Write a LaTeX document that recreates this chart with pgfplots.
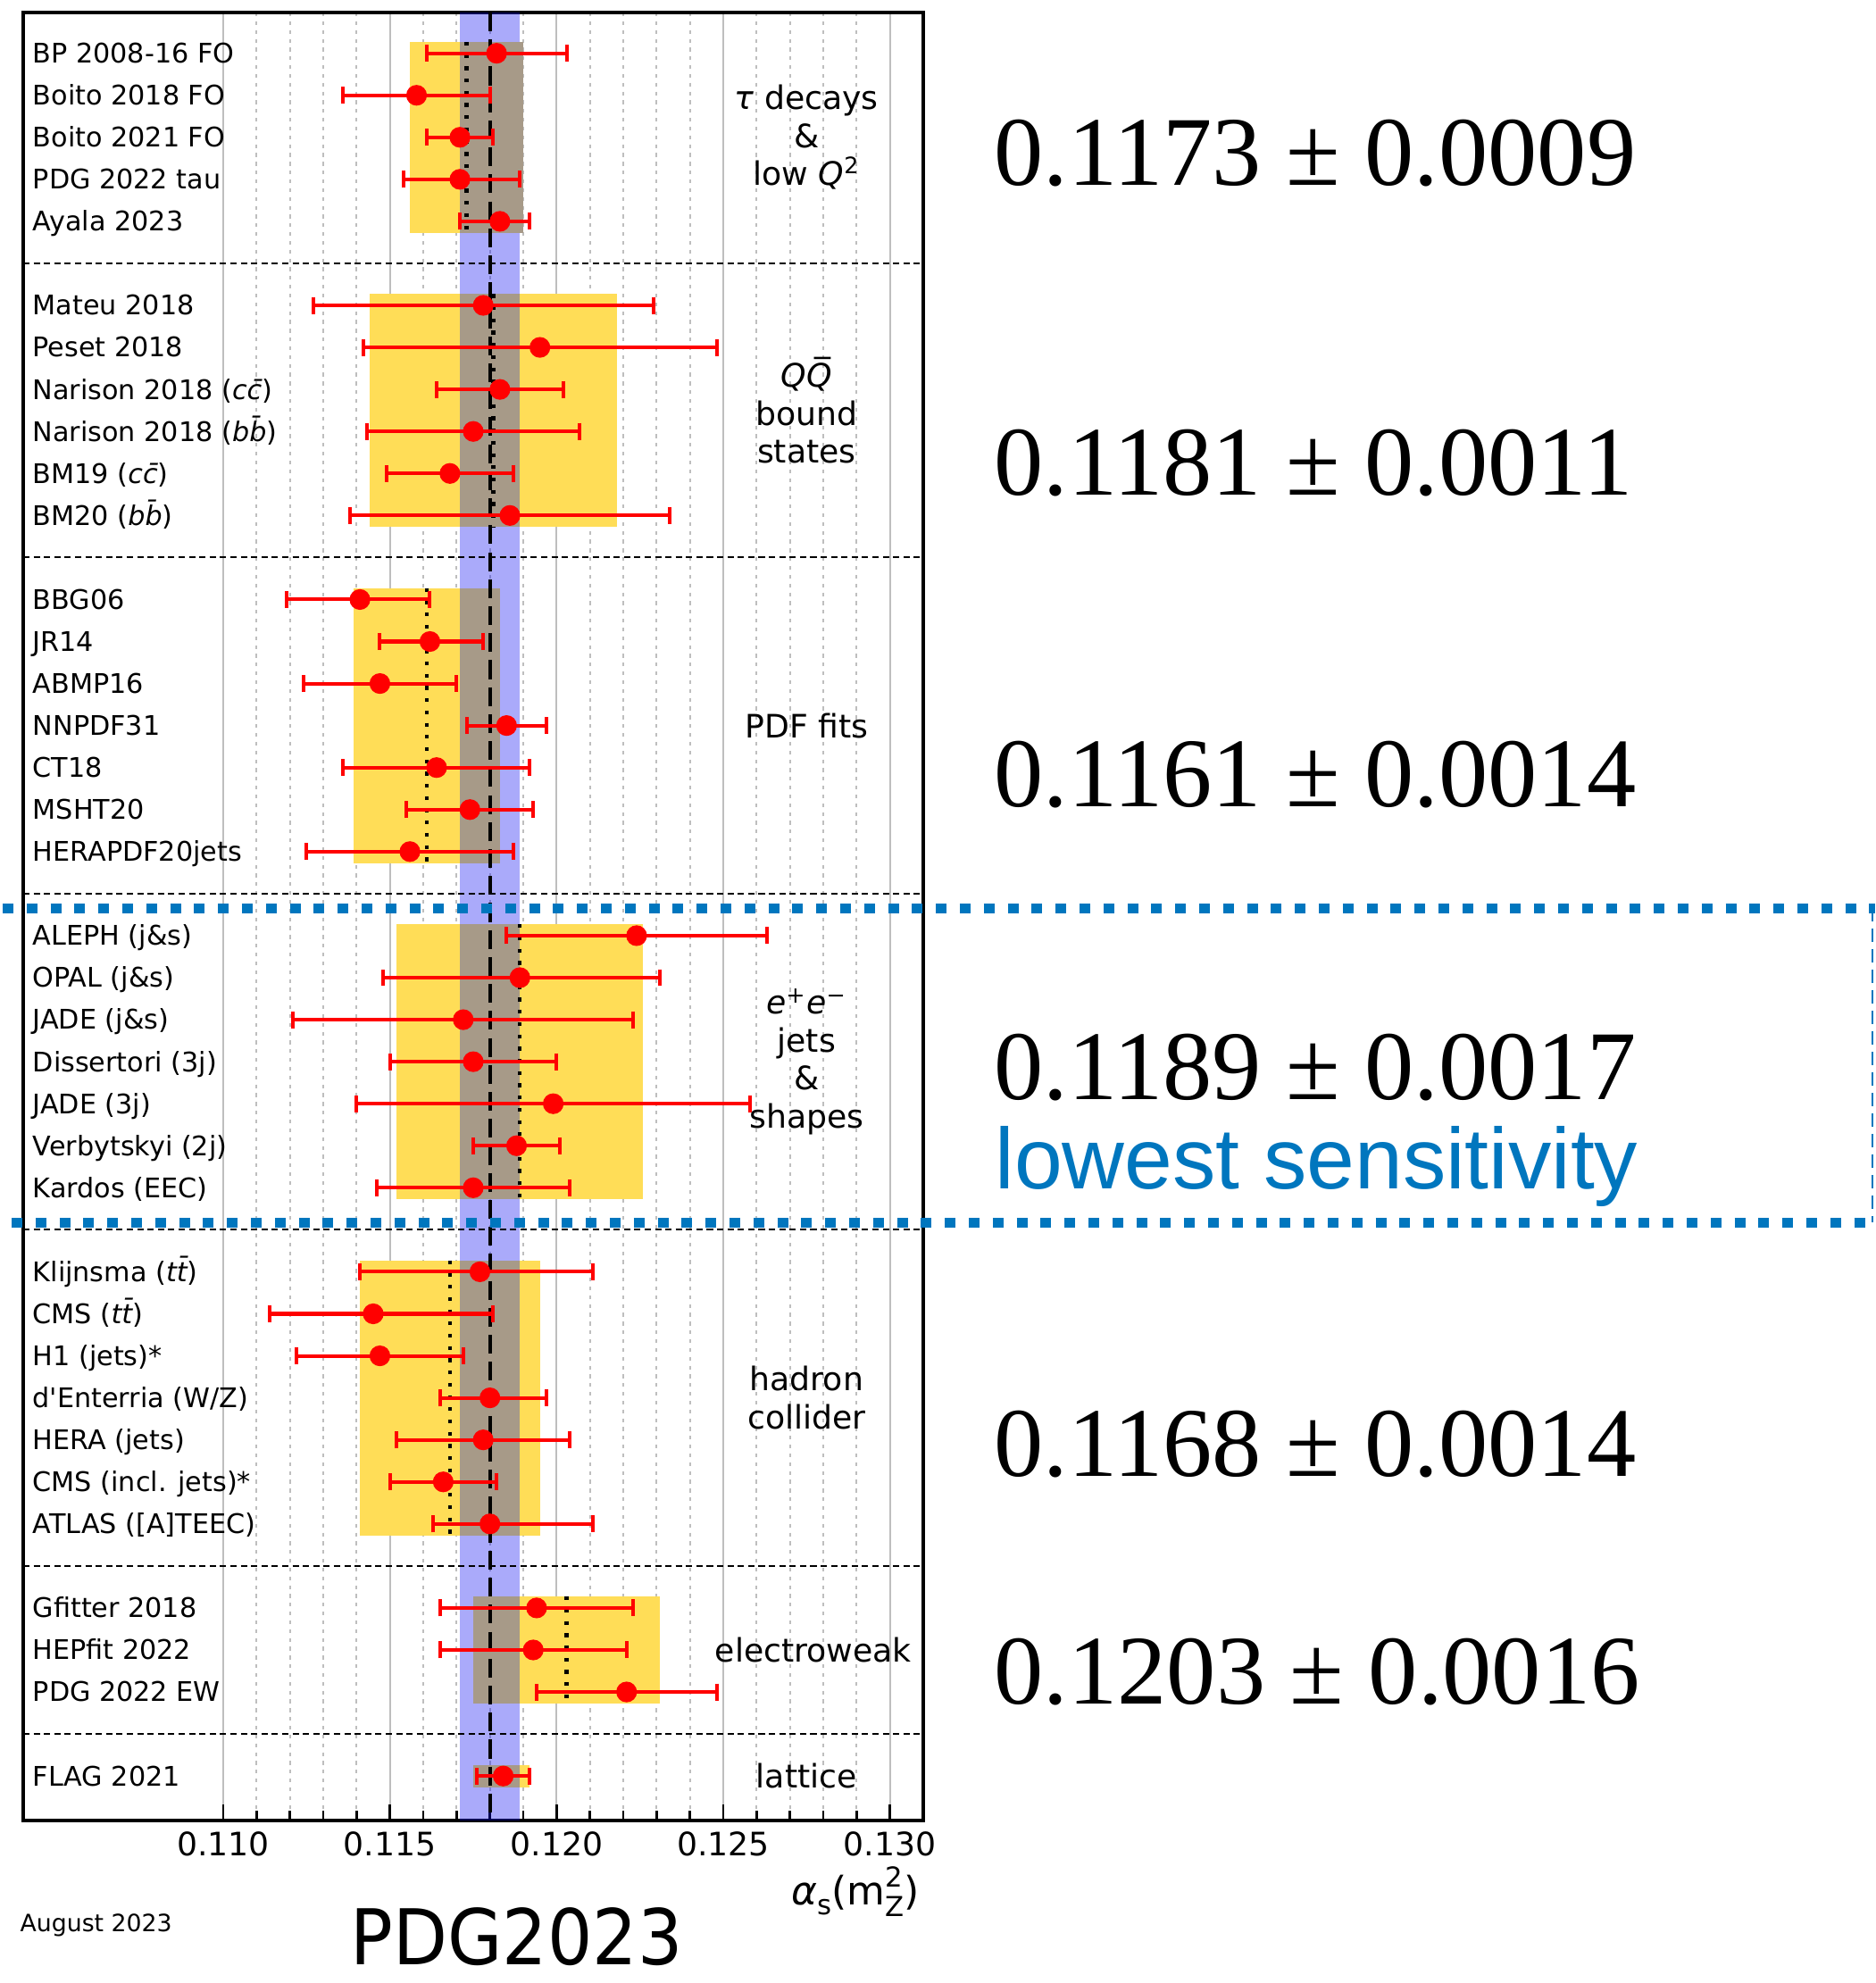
\documentclass[border=0pt]{standalone}
\usepackage{pgfplots}
\pgfplotsset{compat=1.18}
\usepackage{pgfplotstable}
\usepackage{fontspec}
\setmainfont{DejaVu Sans}
\newfontfamily\timesfont{Liberation Serif}
\newfontfamily\arialfont{Liberation Sans}
\definecolor{boxyellow}{RGB}{255,221,87}
\definecolor{overlapbrown}{RGB}{167,154,136}
\definecolor{bandblue}{RGB}{0,0,240}
\definecolor{sensblue}{RGB}{0,118,190}
\definecolor{gridgray}{RGB}{190,190,190}
\newcommand{\pair}[1]{{\itshape #1#1̄}}

\pgfplotstableread{
y x em ep
1 0.1182 0.0021 0.0021
2 0.1158 0.0022 0.0022
3 0.1171 0.0010 0.0010
4 0.1171 0.0017 0.0018
5 0.1183 0.0012 0.0009
7 0.1178 0.0051 0.0051
8 0.1195 0.0053 0.0053
9 0.1183 0.0019 0.0019
10 0.1175 0.0032 0.0032
11 0.1168 0.0019 0.0019
12 0.1186 0.0048 0.0048
14 0.1141 0.0022 0.0021
15 0.1162 0.0015 0.0016
16 0.1147 0.0023 0.0023
17 0.1185 0.0012 0.0012
18 0.1164 0.0028 0.0028
19 0.1174 0.0019 0.0019
20 0.1156 0.0031 0.0031
22 0.1224 0.0039 0.0039
23 0.1189 0.0041 0.0042
24 0.1172 0.0051 0.0051
25 0.1175 0.0025 0.0025
26 0.1199 0.0059 0.0059
27 0.1188 0.0013 0.0013
28 0.1175 0.0029 0.0029
30 0.1177 0.0036 0.0034
31 0.1145 0.0031 0.0036
32 0.1147 0.0025 0.0025
33 0.1180 0.0015 0.0017
34 0.1178 0.0026 0.0026
35 0.1166 0.0016 0.0016
36 0.1180 0.0017 0.0031
38 0.1194 0.0029 0.0029
39 0.1193 0.0028 0.0028
40 0.1221 0.0027 0.0027
42 0.1184 0.0008 0.0008
}\measurements

\begin{document}
\begin{tikzpicture}[x=1cm,y=1cm]
\useasboundingbox (0,0) rectangle (21,-22.21);
\begin{axis}[
  at={(0.26cm,-20.39cm)}, anchor=south west,
  scale only axis, width=10.08cm, height=20.25cm,
  xmin=0.104, xmax=0.131, ymin=0.03, ymax=43.06, y dir=reverse,
  clip=false,
  axis line style={line width=1pt},
  xtick={0.110,0.115,0.120,0.125,0.130},
  minor xtick={0.111,0.112,0.113,0.114,0.116,0.117,0.118,0.119,0.121,0.122,0.123,0.124,0.126,0.127,0.128,0.129},
  ytick=\empty,
  xtick pos=left, tick align=inside,
  major tick length=0.18cm, minor tick length=0.11cm,
  every tick/.style={black, line width=0.8pt},
  xmajorgrids, xminorgrids,
  major grid style={gridgray, line width=0.5pt},
  minor grid style={gridgray, line width=0.5pt, dash pattern=on 1.2pt off 1.6pt},
  scaled x ticks=false,
  x tick label style={font=\fontsize{10.3}{12}\selectfont,
    /pgf/number format/fixed, /pgf/number format/fixed zerofill,
    /pgf/number format/precision=3, /pgf/number format/assume math mode=true},
]
% group boxes
\addplot[draw=none, fill=boxyellow] coordinates {(0.1156,0.73) (0.1190,0.73) (0.1190,5.27) (0.1156,5.27)} -- cycle;
\addplot[draw=none, fill=boxyellow] coordinates {(0.1144,6.73) (0.1218,6.73) (0.1218,12.27) (0.1144,12.27)} -- cycle;
\addplot[draw=none, fill=boxyellow] coordinates {(0.1139,13.73) (0.1183,13.73) (0.1183,20.27) (0.1139,20.27)} -- cycle;
\addplot[draw=none, fill=boxyellow] coordinates {(0.1152,21.73) (0.1226,21.73) (0.1226,28.27) (0.1152,28.27)} -- cycle;
\addplot[draw=none, fill=boxyellow] coordinates {(0.1141,29.73) (0.1195,29.73) (0.1195,36.27) (0.1141,36.27)} -- cycle;
\addplot[draw=none, fill=boxyellow] coordinates {(0.1175,37.73) (0.1231,37.73) (0.1231,40.27) (0.1175,40.27)} -- cycle;
\addplot[draw=none, fill=boxyellow] coordinates {(0.1175,41.74) (0.1192,41.74) (0.1192,42.28) (0.1175,42.28)} -- cycle;
% world average band
\addplot[draw=none, fill=bandblue, fill opacity=0.333] coordinates {(0.1171,0.03) (0.1189,0.03) (0.1189,43.06) (0.1171,43.06)} -- cycle;
% overlap of band and boxes
\addplot[draw=none, fill=overlapbrown] coordinates {(0.1171,0.73) (0.1190,0.73) (0.1190,5.27) (0.1171,5.27)} -- cycle;
\addplot[draw=none, fill=overlapbrown] coordinates {(0.1171,6.73) (0.1189,6.73) (0.1189,12.27) (0.1171,12.27)} -- cycle;
\addplot[draw=none, fill=overlapbrown] coordinates {(0.1171,13.73) (0.1183,13.73) (0.1183,20.27) (0.1171,20.27)} -- cycle;
\addplot[draw=none, fill=overlapbrown] coordinates {(0.1171,21.73) (0.1189,21.73) (0.1189,28.27) (0.1171,28.27)} -- cycle;
\addplot[draw=none, fill=overlapbrown] coordinates {(0.1171,29.73) (0.1189,29.73) (0.1189,36.27) (0.1171,36.27)} -- cycle;
\addplot[draw=none, fill=overlapbrown] coordinates {(0.1175,37.73) (0.1189,37.73) (0.1189,40.27) (0.1175,40.27)} -- cycle;
\addplot[draw=none, fill=overlapbrown] coordinates {(0.1175,41.74) (0.1189,41.74) (0.1189,42.28) (0.1175,42.28)} -- cycle;
% group averages (dotted)
\addplot[black, line width=1.2pt, dash pattern=on 1.2pt off 2.7pt] coordinates {(0.1173,0.73) (0.1173,5.27)};
\addplot[black, line width=1.2pt, dash pattern=on 1.2pt off 2.7pt] coordinates {(0.1181,6.73) (0.1181,12.27)};
\addplot[black, line width=1.2pt, dash pattern=on 1.2pt off 2.7pt] coordinates {(0.1161,13.73) (0.1161,20.27)};
\addplot[black, line width=1.2pt, dash pattern=on 1.2pt off 2.7pt] coordinates {(0.1189,21.73) (0.1189,28.27)};
\addplot[black, line width=1.2pt, dash pattern=on 1.2pt off 2.7pt] coordinates {(0.1168,29.73) (0.1168,36.27)};
\addplot[black, line width=1.2pt, dash pattern=on 1.2pt off 2.7pt] coordinates {(0.1203,37.73) (0.1203,40.27)};
% world average
\addplot[black, line width=1.1pt, dash pattern=on 6pt off 2.6pt] coordinates {(0.1180,0.03) (0.1180,43.06)};
% separators
\addplot[black, line width=0.6pt, dash pattern=on 2pt off 1.3pt] coordinates {(0.104,6) (0.131,6)};
\addplot[black, line width=0.6pt, dash pattern=on 2pt off 1.3pt] coordinates {(0.104,13) (0.131,13)};
\addplot[black, line width=0.6pt, dash pattern=on 2pt off 1.3pt] coordinates {(0.104,21) (0.131,21)};
\addplot[black, line width=0.6pt, dash pattern=on 2pt off 1.3pt] coordinates {(0.104,29) (0.131,29)};
\addplot[black, line width=0.6pt, dash pattern=on 2pt off 1.3pt] coordinates {(0.104,37) (0.131,37)};
\addplot[black, line width=0.6pt, dash pattern=on 2pt off 1.3pt] coordinates {(0.104,41) (0.131,41)};
% measurements
\addplot[only marks, mark=*, mark size=3.1pt, color=red, mark options={fill=red, draw=red},
  error bars/.cd, x dir=both, x explicit,
  error mark=|,
  error bar style={line width=1.15pt, red},
  error mark options={red, line width=1.15pt, mark size=2.7pt}]
  table[x=x, y=y, x error minus=em, x error plus=ep] {\measurements};
% row labels
\begin{scope}[every node/.style={anchor=base west, inner sep=0pt, yshift=-3.1pt, font=\fontsize{8.6}{10}\selectfont}]
\node at (axis cs:0.10427,1) {BP 2008-16 FO};
\node at (axis cs:0.10427,2) {Boito 2018 FO};
\node at (axis cs:0.10427,3) {Boito 2021 FO};
\node at (axis cs:0.10427,4) {PDG 2022 tau};
\node at (axis cs:0.10427,5) {Ayala 2023};
\node at (axis cs:0.10427,7) {Mateu 2018};
\node at (axis cs:0.10427,8) {Peset 2018};
\node at (axis cs:0.10427,9) {Narison 2018 (\pair{c})};
\node at (axis cs:0.10427,10) {Narison 2018 (\pair{b})};
\node at (axis cs:0.10427,11) {BM19 (\pair{c})};
\node at (axis cs:0.10427,12) {BM20 (\pair{b})};
\node at (axis cs:0.10427,14) {BBG06};
\node at (axis cs:0.10427,15) {JR14};
\node at (axis cs:0.10427,16) {ABMP16};
\node at (axis cs:0.10427,17) {NNPDF31};
\node at (axis cs:0.10427,18) {CT18};
\node at (axis cs:0.10427,19) {MSHT20};
\node at (axis cs:0.10427,20) {HERAPDF20jets};
\node at (axis cs:0.10427,22) {ALEPH (j\&s)};
\node at (axis cs:0.10427,23) {OPAL (j\&s)};
\node at (axis cs:0.10427,24) {JADE (j\&s)};
\node at (axis cs:0.10427,25) {Dissertori (3j)};
\node at (axis cs:0.10427,26) {JADE (3j)};
\node at (axis cs:0.10427,27) {Verbytskyi (2j)};
\node at (axis cs:0.10427,28) {Kardos (EEC)};
\node at (axis cs:0.10427,30) {Klijnsma (\pair{t})};
\node at (axis cs:0.10427,31) {CMS (\pair{t})};
\node at (axis cs:0.10427,32) {H1 (jets)*};
\node at (axis cs:0.10427,33) {{\addfontfeatures{Ligatures=TeXOff}d'Enterria} (W/Z)};
\node at (axis cs:0.10427,34) {HERA (jets)};
\node at (axis cs:0.10427,35) {CMS (incl. jets)*};
\node at (axis cs:0.10427,36) {ATLAS ([A]TEEC)};
\node at (axis cs:0.10427,38) {Gfitter 2018};
\node at (axis cs:0.10427,39) {HEPfit 2022};
\node at (axis cs:0.10427,40) {PDG 2022 EW};
\node at (axis cs:0.10427,42) {FLAG 2021};
\end{scope}
% group labels
\begin{scope}[every node/.style={align=center, inner sep=0pt, font=\fontsize{10.3}{12.1}\selectfont}]
\node at (axis cs:0.1275,3) {{\itshape τ} decays\\\&\\low {\itshape Q}\textsuperscript{2}};
\node at (axis cs:0.1275,9.5) {{\itshape QQ̅}\\bound\\states};
\node at (axis cs:0.1275,17) {PDF fits};
\node at (axis cs:0.1275,25) {{\itshape e}\textsuperscript{+}{\itshape e}\textsuperscript{−}\\jets\\\&\\shapes};
\node at (axis cs:0.1275,33) {hadron\\collider};
\node at (axis cs:0.1277,39) {electroweak};
\node at (axis cs:0.1275,42) {lattice};
\end{scope}
\end{axis}
% axis title and footers
\node[anchor=base east, inner sep=0pt, font=\fontsize{12.5}{14}\selectfont] at (10.30,-21.33)
  {{\itshape α}\raisebox{-0.25em}{\fontsize{8.75}{9}\selectfont s}(m\rlap{\raisebox{0.45em}{\fontsize{8.75}{9}\selectfont 2}}\raisebox{-0.3em}{\fontsize{8.75}{9}\selectfont Z})};
\node[anchor=base west, inner sep=0pt, font=\fontsize{7.6}{9}\selectfont] at (0.22,-21.63) {August 2023};
\node[anchor=base west, inner sep=0pt, font=\fontsize{24.5}{28}\selectfont] at (3.92,-22.0) {\scalebox{0.92}[1]{PDG2023}};
% group averages at right
\begin{scope}[every node/.style={anchor=base west, inner sep=0pt, font=\timesfont\fontsize{31.4}{36}\selectfont}]
\node at (11.13,-2.08) {0.1173 ± 0.0009};
\node at (11.13,-5.55) {0.1181 ± 0.0011};
\node at (11.13,-9.03) {0.1161 ± 0.0014};
\node at (11.13,-12.31) {0.1189 ± 0.0017};
\node at (11.13,-16.53) {0.1168 ± 0.0014};
\node at (11.13,-19.08) {0.1203 ± 0.0016};
\end{scope}
\node[anchor=base west, inner sep=0pt, text=sensblue, font=\arialfont\fontsize{27.5}{30}\selectfont] at (11.14,-13.31) {lowest sensitivity};
% highlight box
\draw[sensblue, line width=0.11cm, dash pattern=on 0.12cm off 0.148cm] (0.03,-10.17) -- (21,-10.17);
\draw[sensblue, line width=0.11cm, dash pattern=on 0.12cm off 0.148cm] (0.13,-13.69) -- (21,-13.69);
\draw[sensblue, line width=0.6pt, dash pattern=on 0.15cm off 0.08cm] (20.97,-10.17) -- (20.97,-13.69);
\end{tikzpicture}
\end{document}
